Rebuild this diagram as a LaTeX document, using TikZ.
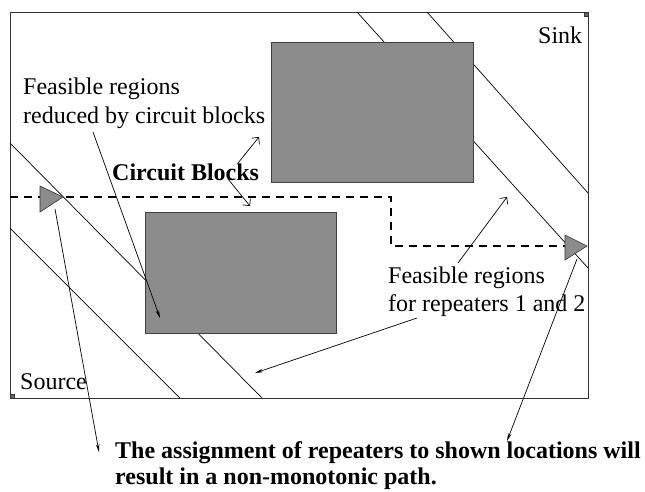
\documentclass[tikz,border=0pt]{standalone}
\usepackage{fontspec}
\setmainfont{Liberation Serif}
\usetikzlibrary{arrows.meta}
\definecolor{blockgray}{RGB}{140,140,140}
\begin{document}
\begin{tikzpicture}[x=1pt,y=-1pt,
  lbl/.style={anchor=base west,inner sep=0pt,font=\fontsize{24}{28}\selectfont},
  boldlbl/.style={anchor=base west,inner sep=0pt,font=\fontsize{24}{28}\selectfont\bfseries},
  frame/.style={draw=black!80,line width=1pt},
  band/.style={line width=0.7pt},
  blockbox/.style={fill=blockgray,draw=black!75,line width=0.7pt},
  repeater/.style={fill=blockgray,draw=black!80,line width=0.6pt},
  route/.style={dash pattern=on 8pt off 6pt,line width=1.4pt},
  pointer/.style={line width=0.7pt,-{Stealth[length=8pt,width=3.5pt]}},
  barb/.style={line width=0.7pt,-{Straight Barb[length=5pt,width=10pt]}},
  handle/.style={fill=black!60,draw=black!80,line width=0.3pt}
]
\useasboundingbox (0,0) rectangle (645,491);

% routing area
\draw[frame] (10,12) rectangle (588,398);

% boundaries of the feasible regions
\draw[band] (10,143) -- (262,398);
\draw[band] (10,228) -- (180,398);
\draw[band] (357,12) -- (588,268);
\draw[band] (427,12) -- (588,193);

% circuit blocks
\node[blockbox,minimum width=202pt,minimum height=140pt,inner sep=0pt,anchor=north west] (upper) at (271,42) {};
\node[blockbox,minimum width=191pt,minimum height=121pt,inner sep=0pt,anchor=north west] (lower) at (145,212) {};

% non-monotonic route
\coordinate (srcend) at (10,197);
\coordinate (bendA) at (391,197);
\coordinate (bendB) at (391,246);
\coordinate (rtwo) at (565,246);
\draw[route] (srcend) -- (bendA) -- (bendB) -- (rtwo);

% repeaters
\draw[repeater] (40,186) coordinate (r1top) -- (63,197) coordinate (r1tip) -- (40,212) coordinate (r1bot) -- cycle;
\draw[repeater] (565,235) coordinate (r2top) -- (587,246) coordinate (r2tip) -- (565,260) coordinate (r2bot) -- cycle;

% corner handles
\node[handle,minimum size=4pt,inner sep=0pt] (hsink) at (586,14) {};
\node[handle,minimum size=4pt,inner sep=0pt] (hsrc) at (12,396) {};

% labels
\node[lbl] (sink) at (538,43) {Sink};
\node[lbl] (source) at (20,389) {Source};
\node[lbl] (redA) at (23,94) {Feasible regions};
\node[lbl] (redB) at (23,123) {reduced by circuit blocks};
\node[boldlbl] (cb) at (112,180) {Circuit Blocks};
\node[lbl] (feasA) at (388,283) {Feasible regions};
\node[lbl] (feasB) at (388,311) {for repeaters 1 and 2};
\node[boldlbl] (noteA) at (115,458) {The assignment of repeaters to shown locations will};
\node[boldlbl] (noteB) at (115,484) {result in a non-monotonic path.};

% pointers
\coordinate (redstart) at (93,132);
\coordinate (redtip) at (160,318);
\draw[pointer] (redstart) -- (redtip);

\coordinate (cbup) at (238,163);
\coordinate (cbuptip) at (259,137);
\draw[barb] (cbup) -- (cbuptip);
\coordinate (cbdn) at (228,179);
\coordinate (cbdntip) at (250,206);
\draw[barb] (cbdn) -- (cbdntip);

\coordinate (feasup) at (458,263);
\coordinate (feasuptip) at (507,197);
\draw[barb] (feasup) -- (feasuptip);
\coordinate (feasdn) at (417,318);
\coordinate (feasdntip) at (255,373);
\draw[pointer] (feasdn) -- (feasdntip);

\coordinate (noteL) at (99,452);
\coordinate (noteR) at (507,441);
\draw[pointer] (55,209) coordinate (r1foot) -- (noteL);
\draw[pointer] (577,259) coordinate (r2foot) -- (noteR);
\end{tikzpicture}
\end{document}
